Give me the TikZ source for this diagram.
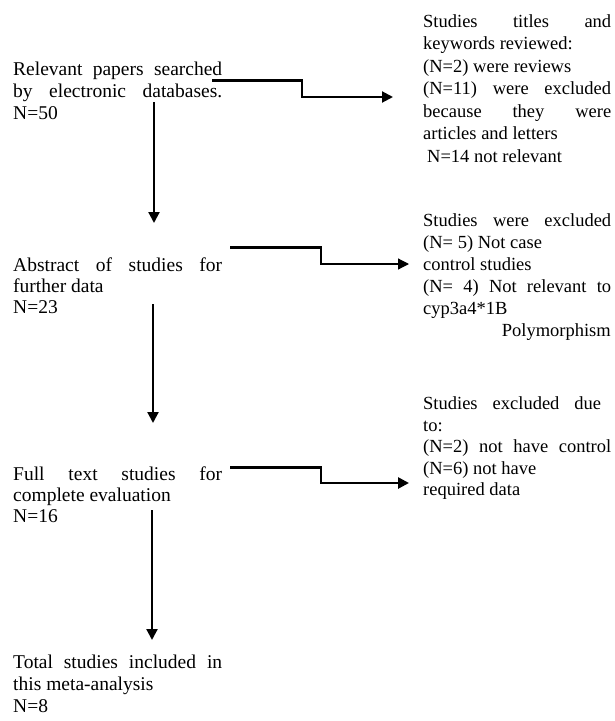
\documentclass[tikz,border=0pt]{standalone}
\usepackage{fontspec}
\setmainfont{Liberation Serif}
\usetikzlibrary{arrows.meta}
\begin{document}
\begin{tikzpicture}[x=1pt,y=-1pt,
  lt/.style={anchor=base west, inner sep=0pt, font=\fontsize{19.5}{22}\selectfont},
  rt/.style={anchor=base west, inner sep=0pt, font=\fontsize{18.5}{22}\selectfont},
  upperseg/.style={line width=3pt, line cap=butt},
  stepseg/.style={line width=2pt, line join=miter},
  tipped/.style={-{Triangle[length=11pt,width=11pt]}},
  vflow/.style={line width=2.2pt, -{Triangle[length=11pt,width=11pt]}}]
\useasboundingbox (0,0) rectangle (615,721);
% ---------- left column ----------
\node[lt] (l1a) at (13,75)  {\makebox[209pt][s]{Relevant papers searched}};
\node[lt] (l1b) at (13,97)  {\makebox[209pt][s]{by electronic databases.}};
\node[lt] (l1c) at (13,119) {N=50};
\node[lt] (l2a) at (13,271) {\makebox[209pt][s]{Abstract of studies for}};
\node[lt] (l2b) at (13,292) {further data};
\node[lt] (l2c) at (13,313) {N=23};
\node[lt] (l3a) at (13,480) {\makebox[209pt][s]{Full text studies for}};
\node[lt] (l3b) at (13,501) {complete evaluation};
\node[lt] (l3c) at (13,522) {N=16};
\node[lt] (l4a) at (13,668) {\makebox[209pt][s]{Total studies included in}};
\node[lt] (l4b) at (13,690) {this meta-analysis};
\node[lt] (l4c) at (13,712) {N=8};
% ---------- right column ----------
\node[rt] (r1a) at (423,27)    {\makebox[188pt][s]{Studies titles and}};
\node[rt] (r1b) at (423,49.5)  {keywords reviewed:};
\node[rt] (r1c) at (423,72)    {(N=2) were reviews};
\node[rt] (r1d) at (423,94.5)  {\makebox[188pt][s]{(N=11) were excluded}};
\node[rt] (r1e) at (423,117)   {\makebox[188pt][s]{because they were}};
\node[rt] (r1f) at (423,139.5) {articles and letters};
\node[rt] (r1g) at (427,162)   {N=14 not relevant};
\node[rt] (r2a) at (423,226)   {\makebox[188pt][s]{Studies were excluded}};
\node[rt] (r2b) at (423,248)   {(N= 5) Not case};
\node[rt] (r2c) at (423,270)   {control studies};
\node[rt] (r2d) at (423,292)   {\makebox[188pt][s]{(N= 4) Not relevant to}};
\node[rt] (r2e) at (423,314)   {cyp3a4*1B};
\node[rt,anchor=base east] (r2f) at (611,336) {Polymorphism};
\node[rt] (r3a) at (423,409.5) {\makebox[178pt][s]{Studies excluded due}};
\node[rt] (r3b) at (423,431)   {to:};
\node[rt] (r3c) at (423,452.5) {\makebox[188pt][s]{(N=2) not have control}};
\node[rt] (r3d) at (423,474)   {(N=6) not have};
\node[rt] (r3e) at (423,495.5) {required data};
% ---------- connector points ----------
\coordinate (a1s) at (154,102);  \coordinate (a1e) at (154,223);
\coordinate (a2s) at (153,304);  \coordinate (a2e) at (153,423);
\coordinate (a3s) at (152,510);  \coordinate (a3e) at (152,640);
\coordinate (c1a) at (212,80);  \coordinate (c1b) at (302,80);
\coordinate (c1c) at (302,97);  \coordinate (c1d) at (393,97);
\coordinate (c2a) at (230,247); \coordinate (c2b) at (321,247);
\coordinate (c2c) at (321,264); \coordinate (c2d) at (409,264);
\coordinate (c3a) at (230,467); \coordinate (c3b) at (321,467);
\coordinate (c3c) at (321,483); \coordinate (c3d) at (409,483);
% ---------- vertical flow arrows ----------
\draw[vflow] (a1s) -- (a1e);
\draw[vflow] (a2s) -- (a2e);
\draw[vflow] (a3s) -- (a3e);
% ---------- exclusion connectors ----------
\draw[stepseg] (c1b) -- (c1c);
\draw[upperseg] (c1a) -- ([xshift=1pt]c1b);
\draw[line width=2pt, tipped] ([xshift=-1pt]c1c) -- (c1d);
\draw[stepseg] (c2b) -- (c2c);
\draw[upperseg] (c2a) -- ([xshift=1pt]c2b);
\draw[line width=1.2pt, tipped] ([xshift=-1pt]c2c) -- (c2d);
\draw[stepseg] (c3b) -- (c3c);
\draw[upperseg] (c3a) -- ([xshift=1pt]c3b);
\draw[line width=2.6pt, tipped] ([xshift=-1pt]c3c) -- (c3d);
\end{tikzpicture}
\end{document}
